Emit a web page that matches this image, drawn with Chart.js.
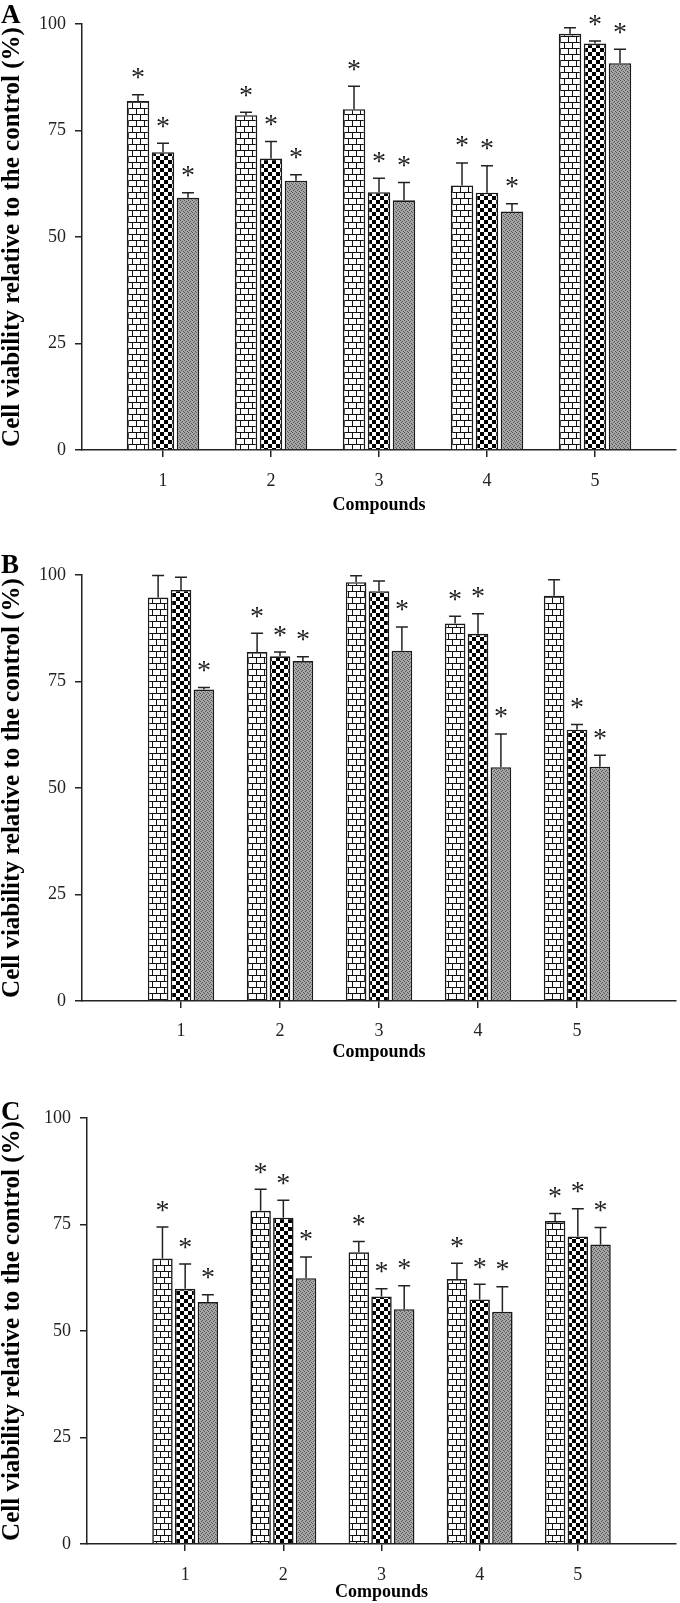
<!DOCTYPE html>
<html lang="en">
<head>
<meta charset="UTF-8" />
<title>Cell viability</title>
<script src="https://cdn.jsdelivr.net/npm/chart.js/dist/chart.umd.min.js"></script>
<style>
  html, body { margin: 0; padding: 0; background: #fff; }
  body { width: 680px; height: 1603px; position: relative; overflow: hidden; }
  .panel { position: absolute; left: 0; width: 680px; }
</style>
</head>
<body>
  <div class="panel" style="top:0"><canvas id="chartA" width="680" height="525"></canvas></div>
  <div class="panel" style="top:525px"><canvas id="chartB" width="680" height="542"></canvas></div>
  <div class="panel" style="top:1067px"><canvas id="chartC" width="680" height="536"></canvas></div>
<script>
const compounds = [1, 2, 3, 4, 5];
const yTicks = [0, 25, 50, 75, 100];

// panel A
const brickA = [81.9, 78.6, 80.0, 62.1, 97.7];
const checkA = [69.9, 68.4, 60.5, 60.4, 95.4];
const greyA  = [59.2, 63.2, 58.6, 56.0, 90.8];
const brickAErr = [1.5, 0.7, 5.4, 5.3, 1.4];
const checkAErr = [2.1, 4.0, 3.3, 6.3, 0.6];
const greyAErr  = [1.2, 1.4, 4.2, 1.8, 3.3];
const brickAStar = [1, 1, 1, 1, 0];
const checkAStar = [1, 1, 1, 1, 1];
const greyAStar  = [1, 1, 1, 1, 1];

// panel B
const brickB = [94.7, 81.9, 98.3, 88.6, 95.1];
const checkB = [96.5, 80.9, 96.2, 86.2, 63.7];
const greyB  = [73.1, 79.8, 82.2, 54.9, 55.0];
const brickBErr = [5.2, 4.4, 1.5, 1.7, 3.8];
const checkBErr = [3.0, 1.0, 2.4, 4.7, 1.2];
const greyBErr  = [0.5, 1.0, 5.6, 7.8, 2.7];
const brickBStar = [0, 1, 0, 1, 0];
const checkBStar = [0, 1, 0, 1, 1];
const greyBStar  = [1, 1, 1, 1, 1];

// panel C
const brickC = [67.0, 78.2, 68.5, 62.2, 75.8];
const checkC = [59.9, 76.6, 58.1, 57.4, 72.2];
const greyC  = [56.8, 62.4, 55.1, 54.5, 70.3];
const brickCErr = [7.4, 5.1, 2.5, 3.7, 1.8];
const checkCErr = [5.8, 4.1, 1.8, 3.6, 6.5];
const greyCErr  = [1.7, 5.0, 5.5, 5.9, 4.0];
const brickCStar = [1, 1, 1, 1, 1];
const checkCStar = [1, 1, 1, 1, 1];
const greyCStar  = [1, 1, 1, 1, 1];

const serif = '"Liberation Serif", "Times New Roman", serif';

// fill patterns
function makePattern(w, h, draw) {
  const c = document.createElement('canvas');
  c.width = w; c.height = h;
  const g = c.getContext('2d');
  draw(g);
  return document.createElement('canvas').getContext('2d').createPattern(c, 'repeat');
}
const brickFill = makePattern(16, 12, g => {
  g.fillStyle = '#fff'; g.fillRect(0, 0, 16, 12);
  g.fillStyle = '#111';
  g.fillRect(0, 0, 16, 1); g.fillRect(0, 6, 16, 1);
  g.fillRect(0, 0, 1, 6); g.fillRect(8, 0, 1, 6);
  g.fillRect(4, 6, 1, 6); g.fillRect(12, 6, 1, 6);
});
const checkFill = makePattern(8, 8, g => {
  g.fillStyle = '#fff'; g.fillRect(0, 0, 8, 8);
  g.fillStyle = '#000';
  g.fillRect(0, 0, 4, 4); g.fillRect(4, 4, 4, 4);
});
const greyFill = makePattern(4, 4, g => {
  g.fillStyle = '#a6a6a6'; g.fillRect(0, 0, 4, 4);
  g.fillStyle = '#555';
  g.fillRect(0, 0, 1, 1); g.fillRect(2, 1, 1, 1); g.fillRect(1, 2, 1, 1); g.fillRect(3, 3, 1, 1);
});

// error bars and significance stars
const errorStars = {
  id: 'errorStars',
  afterDatasetsDraw(chart) {
    const ctx = chart.ctx;
    const y = chart.scales.y;
    ctx.save();
    ctx.strokeStyle = '#222';
    ctx.lineWidth = 1.5;
    ctx.fillStyle = '#222';
    ctx.font = '28px ' + serif;
    ctx.textAlign = 'center';
    ctx.textBaseline = 'alphabetic';
    const m = ctx.measureText('*');
    const mid = (m.actualBoundingBoxAscent - m.actualBoundingBoxDescent) / 2;
    chart.data.datasets.forEach((ds, i) => {
      chart.getDatasetMeta(i).data.forEach((bar, j) => {
        const top = y.getPixelForValue(ds.data[j].y + ds.err[j]);
        ctx.beginPath();
        ctx.moveTo(bar.x, bar.y);
        ctx.lineTo(bar.x, top);
        ctx.moveTo(bar.x - 6, top);
        ctx.lineTo(bar.x + 6, top);
        ctx.stroke();
        if (ds.star[j]) ctx.fillText('*', bar.x, top - 21 + mid);
      });
    });
    ctx.restore();
  }
};

// panel letter
const panelLetter = {
  id: 'panelLetter',
  afterDraw(chart, args, opts) {
    const ctx = chart.ctx;
    ctx.save();
    ctx.fillStyle = '#000';
    ctx.font = 'bold 27px ' + serif;
    ctx.textAlign = 'left';
    ctx.textBaseline = 'alphabetic';
    ctx.fillText(opts.text, 1, opts.y);
    ctx.restore();
  }
};

function makeDataset(label, values, err, star, fill) {
  return {
    label,
    data: compounds.map((c, i) => ({ x: c, y: values[i] })),
    err,
    star,
    backgroundColor: fill,
    borderColor: '#1a1a1a',
    borderWidth: 1.6,
    categoryPercentage: 0.694,
    barPercentage: 0.9
  };
}

function makeChart(id, sets, p) {
  return new Chart(document.getElementById(id), {
    type: 'bar',
    data: {
      datasets: [
        makeDataset('brick', sets[0][0], sets[0][1], sets[0][2], brickFill),
        makeDataset('checker', sets[1][0], sets[1][1], sets[1][2], checkFill),
        makeDataset('grey', sets[2][0], sets[2][1], sets[2][2], greyFill)
      ]
    },
    options: {
      responsive: false,
      animation: false,
      events: [],
      layout: { padding: { top: p.top, right: 4, bottom: 0, left: 0 } },
      plugins: {
        legend: { display: false },
        tooltip: { enabled: false },
        panelLetter: { text: p.letter, y: p.letterY }
      },
      scales: {
        x: {
          type: 'linear',
          offset: false,
          min: p.xMin,
          max: p.xMax,
          afterBuildTicks: s => { s.ticks = compounds.map(v => ({ value: v })); },
          afterFit: s => { s.height = p.xHeight; s.paddingLeft = 0; s.paddingRight = 0; },
          grid: { offset: false, drawOnChartArea: false, drawTicks: true, tickLength: 7, color: '#222', lineWidth: 1.5 },
          border: { display: true, color: '#222', width: 1.5 },
          ticks: { color: '#222', padding: p.tickPad, font: { family: serif, size: 18 }, maxRotation: 0 },
          title: {
            display: true, text: 'Compounds', color: '#000',
            font: { family: serif, size: 18, weight: 'bold' },
            padding: { top: 0, bottom: p.titlePad }
          }
        },
        y: {
          min: 0,
          max: 100,
          afterBuildTicks: s => { s.ticks = yTicks.map(v => ({ value: v })); },
          afterFit: s => { s.width = p.yWidth; s.paddingTop = 0; s.paddingBottom = 0; },
          grid: { drawOnChartArea: false, drawTicks: true, tickLength: 7, color: '#222', lineWidth: 1.5 },
          border: { display: true, color: '#222', width: 1.5 },
          ticks: { color: '#222', padding: 9, font: { family: serif, size: 18 } },
          title: {
            display: true, text: 'Cell viability relative to the control (%)', color: '#000',
            font: { family: serif, size: 25, weight: 'bold', lineHeight: 1 },
            padding: { top: 0, bottom: 0 }
          }
        }
      }
    },
    plugins: [errorStars, panelLetter]
  });
}

makeChart('chartA',
  [[brickA, brickAErr, brickAStar], [checkA, checkAErr, checkAStar], [greyA, greyAErr, greyAStar]],
  { letter: 'A', letterY: 23, top: 24, xHeight: 75, tickPad: 13, titlePad: 9, yWidth: 82, xMin: 0.25, xMax: 5.75 });
makeChart('chartB',
  [[brickB, brickBErr, brickBStar], [checkB, checkBErr, checkBStar], [greyB, greyBErr, greyBStar]],
  { letter: 'B', letterY: 48, top: 50, xHeight: 66, tickPad: 12, titlePad: 4, yWidth: 82, xMin: 0, xMax: 6 });
makeChart('chartC',
  [[brickC, brickCErr, brickCStar], [checkC, checkCErr, checkCStar], [greyC, greyCErr, greyCStar]],
  { letter: 'C', letterY: 53, top: 51, xHeight: 59, tickPad: 13, titlePad: 0, yWidth: 87, xMin: 0, xMax: 6 });
</script>
</body>
</html>
